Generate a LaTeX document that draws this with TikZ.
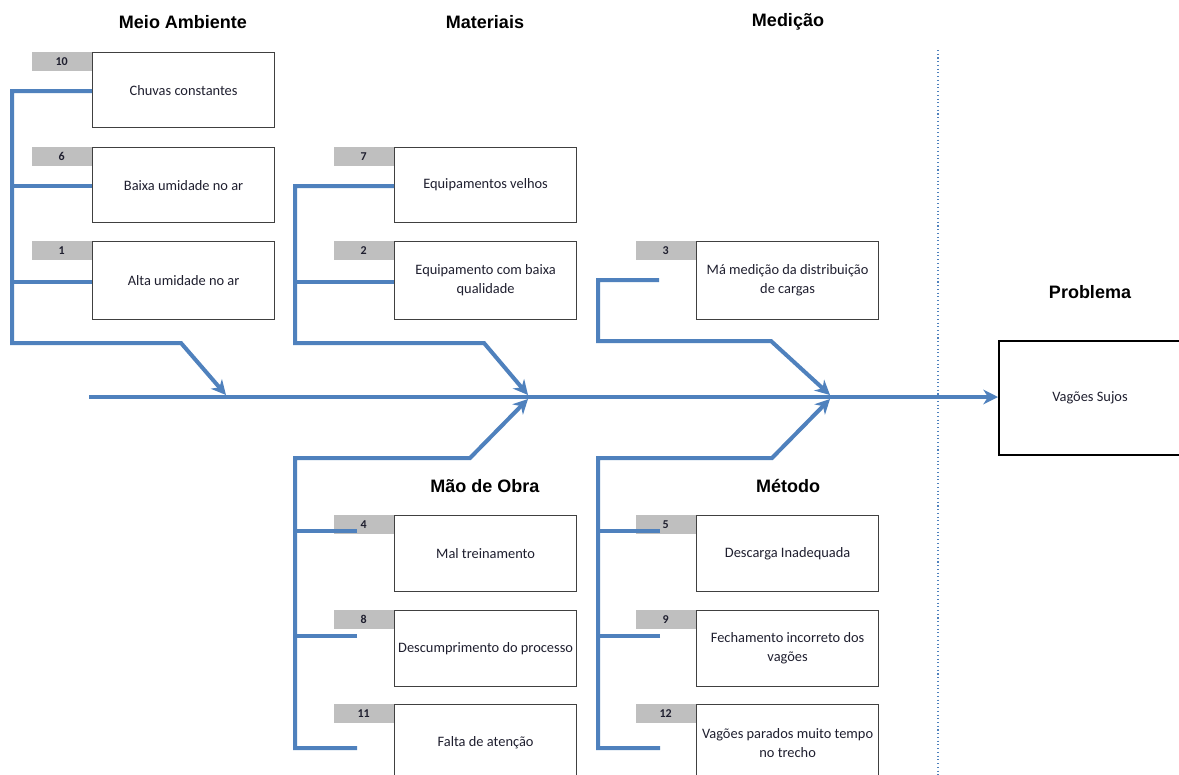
\documentclass[tikz,border=0pt]{standalone}
\usepackage{fontspec}
\setmainfont{Carlito}
\newfontfamily\titlefont{Liberation Sans}
\usetikzlibrary{arrows.meta}
\definecolor{fishblue}{HTML}{4F81BD}
\definecolor{tabgray}{HTML}{BFBFBF}
\definecolor{boxline}{HTML}{404040}
\definecolor{txt}{HTML}{1F1F2F}
\begin{document}
\begin{tikzpicture}[x=0.75pt,y=-0.75pt,
 cause/.style={draw=boxline, line width=0.9pt, fill=white, minimum width=136.5pt, minimum height=57pt, align=center, anchor=north west, inner sep=2pt, text=txt, font=\fontsize{10.8}{14.25}\selectfont},
 tab/.style={fill=tabgray, minimum width=45pt, minimum height=14.25pt, inner sep=0pt, anchor=north east, text=txt, font=\bfseries\fontsize{9}{10}\selectfont},
 title/.style={font=\titlefont\bfseries\fontsize{13.5}{16}\selectfont},
 bone/.style={draw=fishblue, line width=3pt, line join=miter},
 head/.style={-{Stealth[length=11pt,width=11pt,inset=3.5pt]}},
 guide/.style={draw=fishblue, dotted, line width=0.8pt}
]
\fill[white] (0,0) rectangle (1179,775);
\clip (0,0) rectangle (1179,775);

% titles
\node[title] (tMA) at (183,22) {Meio Ambiente};
\node[title] (tMat) at (485,22) {Materiais};
\node[title] (tMed) at (788,22) {Medição};
\node[title] (tProb) at (1090,292) {Problema};
\node[title] (tMO) at (485,486) {Mão de Obra};
\node[title] (tMet) at (788,486) {Método};

% dotted separator
\coordinate (sepTop) at (938,50);
\coordinate (sepBot) at (938,775);
\draw[guide] (sepTop) -- (sepBot);

% cause boxes
\node[cause, minimum height=56.25pt] (c10) at (92,52) {Chuvas constantes};
\node[cause, minimum height=56.25pt] (c6) at (92,147) {Baixa umidade no ar};
\node[cause, minimum height=58.5pt] (c1) at (92,241) {Alta umidade no ar};
\node[cause, minimum height=56.25pt] (c7) at (394,147) {Equipamentos velhos};
\node[cause, minimum height=58.5pt] (c2) at (394,241) {Equipamento com baixa\\qualidade};
\node[cause, minimum height=58.5pt] (c3) at (696,241) {Má medição da distribuição\\de cargas};
\node[cause] (c4) at (394,515) {Mal treinamento};
\node[cause] (c8) at (394,610) {Descumprimento do processo};
\node[cause] (c11) at (394,704) {Falta de atenção};
\node[cause] (c5) at (696,515) {Descarga Inadequada};
\node[cause] (c9) at (696,610) {Fechamento incorreto dos\\vagões};
\node[cause] (c12) at (696,704) {Vagões parados muito tempo\\no trecho};

% number tabs
\foreach \b/\n in {c10/10,c6/6,c1/1,c7/7,c2/2,c3/3,c4/4,c8/8,c11/11,c5/5,c9/9,c12/12}
  \node[tab] (t\n) at (\b.north west) {\n};

% problem box
\node[draw=black, line width=1.5pt, fill=white, minimum width=136.5pt, minimum height=85.5pt, anchor=north west, text=txt, font=\fontsize{10.8}{13}\selectfont] (prob) at (998,340) {Vagões Sujos};

% spine
\coordinate (tail) at (89,397);
\draw[bone, head] (tail) -- (tail -| prob.west);

% Meio Ambiente
\coordinate (aBot) at (12,343);
\coordinate (aKnee) at (181,343);
\coordinate (aTip) at (226,395);
\draw[bone, head] (c10.west |- 0,91) -| (aBot) -- (aKnee) -- (aTip);
\draw[bone] (c6.west |- 0,186) -- (aBot |- 0,186);
\draw[bone] (c1.west |- 0,282) -- (aBot |- 0,282);

% Materiais
\coordinate (bBot) at (295,343);
\coordinate (bKnee) at (484,343);
\coordinate (bTip) at (528,395);
\draw[bone, head] (c7.west |- 0,186) -| (bBot) -- (bKnee) -- (bTip);
\draw[bone] (c2.west |- 0,282) -- (bBot |- 0,282);

% Medicao
\coordinate (cEnd) at (659,280);
\coordinate (cBot) at (598,341);
\coordinate (cKnee) at (771,341);
\coordinate (cTip) at (830,395);
\draw[bone, head] (cEnd) -| (cBot) -- (cKnee) -- (cTip);

% Mao de Obra
\coordinate (dE1) at (357,531);
\coordinate (dE2) at (357,636);
\coordinate (dE3) at (357,748);
\coordinate (dTop) at (295,458);
\coordinate (dKnee) at (470,458);
\coordinate (dTip) at (528,399);
\draw[bone, head] (dE3) -| (dTop) -- (dKnee) -- (dTip);
\draw[bone] (dE1) -- (dE1 -| dTop);
\draw[bone] (dE2) -- (dE2 -| dTop);

% Metodo
\coordinate (eE1) at (660,531);
\coordinate (eE2) at (660,636);
\coordinate (eE3) at (660,748);
\coordinate (eTop) at (598,458);
\coordinate (eKnee) at (772,458);
\coordinate (eTip) at (830,399);
\draw[bone, head] (eE3) -| (eTop) -- (eKnee) -- (eTip);
\draw[bone] (eE1) -- (eE1 -| eTop);
\draw[bone] (eE2) -- (eE2 -| eTop);
\end{tikzpicture}
\end{document}
